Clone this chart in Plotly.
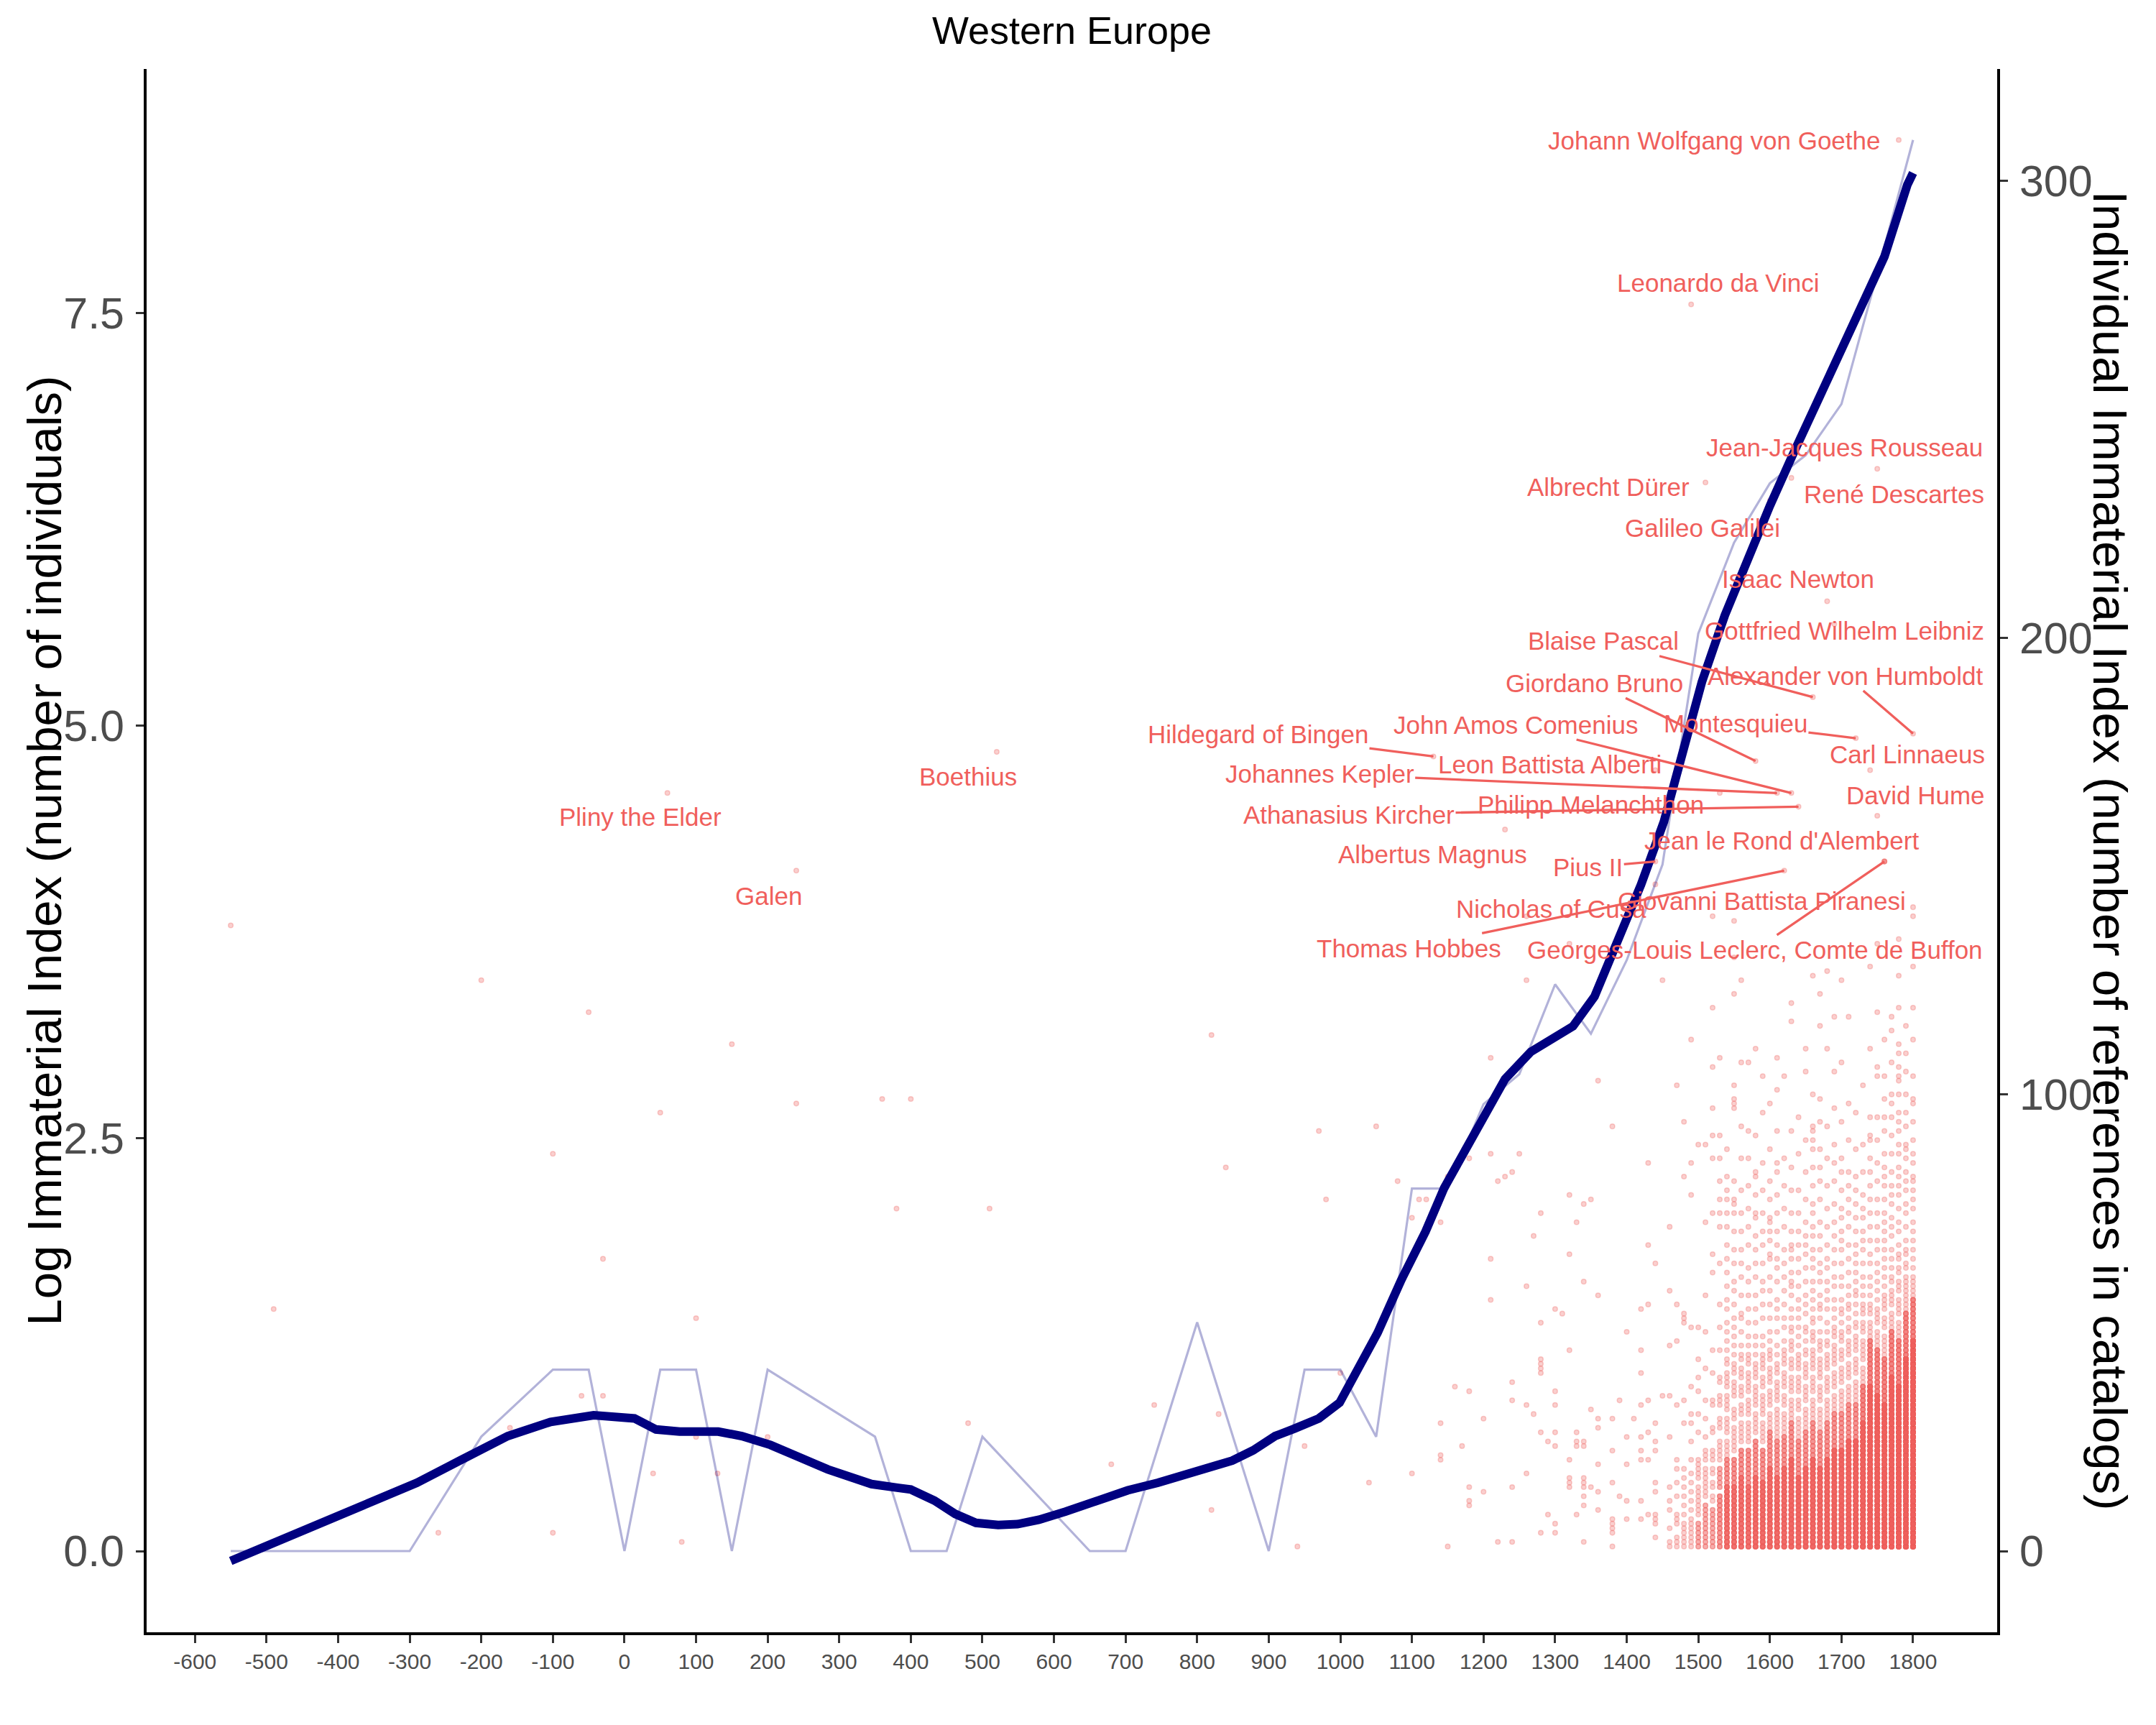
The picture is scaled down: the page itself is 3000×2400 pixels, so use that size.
import plotly.graph_objects as go

K = 36.14  # references per log unit (secondary axis scale)
FONT = "Liberation Sans, Arial, Helvetica, sans-serif"
RED = "#F05F5C"
PT_RGBA = "rgba(240,95,92,0.30)"
PAGE_OFF = 8  # default browser body margin

title_text = "Western Europe"
y_left_title = "Log Immaterial Index (number of individuals)"
y_right_title = "Individual Immaterial Index (number of references in catalogs)"

x_ticks = list(range(-600, 1801, 100))
y_left_ticks = [0, 2.5, 5, 7.5]
y_left_ticklabels = ["0.0", "2.5", "5.0", "7.5"]
y_right_ticks = [0, 100, 200, 300]

# log count of individuals per 50-year bin
bin_years = [-550, -500, -300, -200, -100, -50, 0, 50, 100, 150,
             200, 350, 400, 450, 500, 650, 700, 800, 900, 950,
             1000, 1050, 1100, 1150, 1200, 1250, 1300, 1350, 1400, 1450,
             1500, 1550, 1600, 1650, 1700, 1750, 1800]
bin_log = [0, 0, 0, 0.693, 1.099, 1.099, 0, 1.099, 1.099, 0,
           1.099, 0.693, 0, 0, 0.693, 0, 0, 1.386, 0, 1.099,
           1.099, 0.693, 2.197, 2.197, 2.708, 2.890, 3.434, 3.135, 3.58, 4.16,
           5.56, 6.11, 6.47, 6.64, 6.95, 7.74, 8.55]

# smoothed trend
smooth_years = [-550, -489, -431, -364, -290, -230, -163, -103, -43, 14,
                44, 77, 131, 164, 204, 284, 345, 383, 400, 433,
                462, 491, 522, 549, 579, 616, 658, 703, 745, 795,
                824, 849, 878, 909, 936, 970, 999, 1035, 1052, 1085,
                1119, 1145, 1179, 1200, 1230, 1266, 1299, 1325, 1355, 1388,
                1420, 1452, 1478, 1505, 1537, 1569, 1600, 1632, 1664, 1696,
                1728, 1760, 1792, 1800]
smooth_log = [-0.06, 0.05, 0.158, 0.279, 0.414, 0.548, 0.697, 0.783, 0.823, 0.804,
              0.737, 0.724, 0.724, 0.697, 0.643, 0.495, 0.406, 0.383, 0.373, 0.306,
              0.225, 0.171, 0.158, 0.163, 0.19, 0.239, 0.306, 0.368, 0.414, 0.473,
              0.508, 0.548, 0.61, 0.697, 0.742, 0.804, 0.899, 1.18, 1.322, 1.642,
              1.936, 2.2, 2.473, 2.64, 2.86, 3.025, 3.112, 3.18, 3.36, 3.696,
              4.038, 4.42, 4.823, 5.266, 5.669, 6.011, 6.333, 6.643, 6.945, 7.247,
              7.541, 7.843, 8.278, 8.35]

# individual points (decade, references) - sparse reading per decade
sparse_years = [-550, -490, -260, -200, -160, -100, -60, -50, -30, 40,
                50, 80, 100, 130, 150, 200, 240, 360, 380, 400,
                480, 510, 680, 740, 820, 830, 840, 940, 950, 970,
                980, 1000, 1040, 1050, 1080, 1100, 1110, 1120, 1140, 1150,
                1160, 1170, 1180, 1200, 1210, 1220, 1230, 1240, 1250, 1260,
                1270, 1280, 1290, 1300, 1310, 1320, 1330, 1340, 1350, 1360,
                1380, 1390, 1400, 1410, 1420, 1430, 1440, 1450, 1460, 1470,
                1480, 1490,
                1500, 1510, 1520, 1530, 1540, 1550, 1560, 1570, 1580, 1590,
                1600, 1610, 1620, 1630, 1640, 1650, 1660, 1670, 1680, 1690,
                1700, 1710, 1720, 1730, 1740, 1750, 1760, 1770, 1780, 1790, 1800]
sparse_refs = [
    [137], [53], [4], [125], [27], [87, 4], [34], [118], [64, 34], [17],
    [96], [2], [51, 25], [17], [111], [25], [98], [99], [75], [99],
    [28], [75], [19], [32], [113, 9], [30], [84], [1], [23], [92],
    [77], [39], [15], [93], [81], [73, 17], [77], [77], [72, 28, 21, 20], [82, 1],
    [36], [23], [86, 35, 14, 11, 10], [29, 13], [108, 87, 64, 55], [81, 2], [82],
    [83, 37, 33, 14, 2], [87], [139, 125, 58, 32, 17],
    [69, 30], [74, 50, 42, 41, 40, 39, 26, 4], [24, 8], [53, 35, 32, 26, 23, 6, 4], [52],
    [133, 78, 65, 44, 20, 16, 15, 14], [72, 26, 24, 23, 8],
    [76, 59, 24, 23, 16, 15, 14, 12, 10, 2], [77, 31, 14], [103, 56, 29, 27, 19, 13, 9],
    [93, 29, 22, 15, 7, 6, 5, 4, 1], [33, 12], [48, 25, 19, 11, 7], [29],
    [53, 44, 39, 32, 25, 22, 20, 11, 7], [85, 67, 54, 33, 26, 20, 8],
    [63, 28, 24, 22, 15, 13, 8, 7, 6, 3], [125, 34],
    [71, 57, 45, 34, 25, 14, 11, 9, 5, 2, 1],
    [102, 54, 46, 32, 20, 18, 15, 12, 8, 7, 6, 3, 2, 1],
    [1, 2, 3, 4, 5, 6, 8, 10, 12, 14, 16, 18, 28, 33, 50, 51, 52, 82, 94],
    [1, 2, 3, 4, 5, 6, 7, 9, 11, 13, 15, 17, 20, 24, 28, 30, 36, 49, 78, 85, 112],
    [26, 30, 35, 38, 42, 49, 89],
    [22, 25, 29, 33, 40, 48, 56, 72, 89],
    [39, 44, 61, 65, 74, 86, 91, 97, 106, 119, 139],
    [44, 49, 54, 63, 71, 74, 77, 81, 86, 91, 108],
    [44, 46, 48, 50, 53, 55, 58, 61, 64, 67, 71, 74, 77, 79, 82, 88],
    [43, 45, 47, 49, 51, 54, 57, 59, 63, 66, 70, 74, 76, 77, 81, 97, 98, 99, 102, 122, 130, 138],
    [42, 43, 45, 48, 51, 52, 56, 60, 63, 66, 70, 74, 79, 86, 93, 107, 125],
    [43, 45, 47, 50, 53, 56, 59, 62, 67, 71, 75, 80, 86, 92, 107],
    [43, 45, 47, 50, 53, 56, 60, 63, 66, 69, 73, 74, 78, 82, 83, 91, 110],
    [45, 47, 51, 54, 57, 59, 63, 67, 70, 74, 79, 85, 96, 104],
    [44, 46, 48, 51, 54, 57, 60, 64, 65, 68, 70, 72, 73, 77, 81, 88, 98],
    [43, 45, 48, 51, 53, 55, 59, 62, 64, 67, 70, 74, 78, 83, 85, 92, 101, 108],
    [46, 49, 51, 54, 57, 60, 63, 66, 71, 75, 80, 86, 104],
    [48, 49, 51, 53, 56, 58, 59, 61, 64, 66, 67, 70, 74, 79, 84, 92, 116, 120],
    [45, 47, 49, 51, 53, 55, 58, 61, 64, 67, 70, 74, 79, 87, 95],
    [46, 48, 49, 52, 54, 56, 59, 62, 65, 67, 69, 72, 77, 83, 90, 105, 110],
    [50, 51, 53, 55, 57, 59, 62, 64, 66, 69, 71, 74, 76, 80, 84, 88, 90, 92, 93, 100, 126],
    [48, 51, 53, 54, 56, 59, 61, 63, 66, 69, 72, 77, 81, 84, 88, 94, 99, 115, 122],
    [48, 50, 53, 55, 57, 59, 62, 64, 67, 71, 75, 80, 86, 93, 110, 127],
    [49, 51, 53, 55, 58, 60, 63, 66, 69, 72, 76, 81, 85, 89, 97, 105, 117],
    [50, 52, 53, 55, 58, 60, 63, 66, 68, 70, 73, 75, 79, 83, 86, 94, 107, 125],
    [51, 53, 54, 56, 58, 61, 64, 67, 71, 74, 77, 80, 83, 90, 98, 117],
    [52, 54, 56, 57, 59, 61, 63, 65, 67, 70, 73, 76, 79, 82, 88, 96],
    [54, 56, 58, 60, 63, 66, 68, 70, 73, 75, 78, 83, 89, 102],
    [56, 58, 60, 63, 65, 68, 71, 74, 77, 80, 83, 86, 90, 91, 95, 110, 128],
    [55, 57, 59, 61, 63, 66, 68, 71, 74, 77, 81, 85, 90, 95, 104, 106, 118, 133],
    [58, 60, 62, 64, 66, 68, 70, 72, 74, 77, 80, 82, 84, 87, 92, 95, 99, 104, 112],
    [59, 60, 62, 64, 66, 69, 71, 73, 76, 78, 80, 83, 87, 91, 95, 98, 100, 107, 114, 117],
    [61, 62, 64, 65, 67, 70, 72, 75, 78, 80, 82, 84, 87, 89, 92, 94, 96, 100, 103, 104, 106,
     109, 111, 119, 126, 134],
    [59, 60, 62, 63, 65, 66, 68, 71, 74, 76, 79, 81, 83, 86, 88, 89, 93, 96, 100, 105, 109, 115],
    [59, 60, 62, 64, 66, 68, 70, 72, 75, 77, 79, 81, 82, 85, 87, 90, 94, 98, 99, 104, 112, 119,
     128, 139, 141],
]

# dense stacks: (lowest refs, highest refs, individuals per position) per decade
dense_years = [1500, 1510, 1520, 1530, 1540, 1550, 1560, 1570, 1580, 1590,
               1600, 1610, 1620, 1630, 1640, 1650, 1660, 1670, 1680, 1690,
               1700, 1710, 1720, 1730, 1740, 1750, 1760, 1770, 1780, 1790, 1800]
dense_runs = [
    [(1, 6, 2), (8, 14, 1), (16, 20, 1)],
    [(1, 10, 2), (12, 18, 1), (20, 21, 1)],
    [(1, 9, 2), (11, 12, 1), (14, 15, 1), (17, 18, 1), (20, 22, 1), (26, 27, 1), (32, 33, 1)],
    [(1, 12, 3), (14, 18, 2), (20, 24, 1), (27, 29, 1), (32, 34, 1), (37, 38, 1)],
    [(1, 14, 6), (15, 20, 3), (21, 24, 1), (26, 29, 1), (31, 34, 1), (36, 39, 1), (41, 42, 1)],
    [(1, 14, 6), (15, 20, 3), (22, 27, 1), (29, 31, 1), (34, 37, 1), (39, 41, 1)],
    [(1, 16, 6), (17, 22, 3), (24, 28, 1), (30, 32, 1), (34, 36, 1), (38, 40, 1)],
    [(1, 14, 6), (15, 22, 3), (24, 28, 1), (30, 33, 1), (35, 39, 1), (41, 42, 1)],
    [(1, 16, 7), (17, 24, 3), (26, 30, 1), (32, 36, 1), (38, 41, 1)],
    [(1, 15, 7), (16, 22, 3), (24, 28, 1), (30, 34, 1), (36, 38, 1), (40, 43, 1)],
    [(1, 18, 7), (19, 26, 3), (27, 30, 1), (32, 35, 1), (37, 40, 1), (42, 43, 1)],
    [(1, 16, 7), (17, 24, 3), (25, 31, 1), (33, 37, 1), (39, 41, 1)],
    [(1, 18, 7), (19, 25, 3), (26, 30, 1), (32, 34, 1), (36, 39, 1), (41, 44, 1)],
    [(1, 20, 8), (21, 28, 3), (29, 33, 1), (35, 38, 1), (40, 42, 1), (44, 46, 1)],
    [(1, 16, 8), (17, 24, 3), (25, 29, 1), (31, 33, 1), (35, 38, 1), (40, 43, 1)],
    [(1, 18, 8), (19, 26, 3), (27, 31, 1), (33, 36, 1), (38, 41, 1), (43, 44, 1)],
    [(1, 20, 8), (21, 28, 3), (29, 33, 1), (35, 38, 1), (40, 44, 1), (46, 48, 1)],
    [(1, 18, 8), (19, 26, 3), (27, 31, 1), (33, 36, 1), (38, 42, 1), (44, 46, 1)],
    [(1, 20, 8), (21, 28, 3), (29, 33, 1), (35, 38, 1), (40, 43, 1), (45, 46, 1)],
    [(1, 22, 9), (23, 30, 3), (31, 34, 1), (36, 39, 1), (41, 45, 1), (47, 48, 1)],
    [(1, 22, 9), (23, 30, 3), (31, 35, 1), (37, 40, 1), (42, 44, 1), (46, 48, 1)],
    [(1, 24, 9), (25, 32, 3), (33, 36, 1), (38, 41, 1), (43, 46, 1), (48, 49, 1)],
    [(1, 24, 10), (25, 32, 3), (33, 37, 1), (39, 42, 1), (44, 47, 1), (49, 50, 1)],
    [(1, 28, 10), (29, 36, 4), (37, 40, 1), (42, 46, 1), (48, 50, 1), (52, 53, 1)],
    [(1, 36, 12), (37, 46, 4), (47, 50, 1), (52, 54, 1)],
    [(1, 34, 12), (35, 44, 4), (45, 48, 1), (50, 53, 1)],
    [(1, 32, 12), (33, 42, 4), (43, 47, 1), (49, 51, 1), (53, 56, 1)],
    [(1, 38, 14), (39, 48, 4), (49, 52, 1), (54, 57, 1)],
    [(1, 36, 14), (37, 46, 4), (47, 50, 1), (52, 55, 1), (57, 59, 1)],
    [(1, 42, 16), (43, 52, 4), (53, 55, 1), (56, 58, 1)],
    [(1, 46, 16), (47, 55, 4), (56, 58, 1)],
]

# labelled individuals
notable_names = ["Johann Wolfgang von Goethe", "Leonardo da Vinci", "Jean-Jacques Rousseau",
                 "René Descartes", "Albrecht Dürer", "Galileo Galilei", "Isaac Newton",
                 "Gottfried Wilhelm Leibniz", "Blaise Pascal", "Alexander von Humboldt",
                 "Giordano Bruno", "Montesquieu", "Carl Linnaeus", "John Amos Comenius",
                 "Hildegard of Bingen", "Leon Battista Alberti", "Johannes Kepler",
                 "David Hume", "Philipp Melanchthon", "Athanasius Kircher", "Albertus Magnus",
                 "Jean le Rond d'Alembert", "Pius II", "Giovanni Battista Piranesi",
                 "Nicholas of Cusa", "Thomas Hobbes", "Georges-Louis Leclerc, Comte de Buffon",
                 "Pliny the Elder", "Galen", "Boethius"]
notable_years = [1780, 1490, 1750, 1630, 1510, 1600, 1680, 1690, 1660, 1800,
                 1580, 1720, 1740, 1630, 1130, 1440, 1610, 1750, 1530, 1640,
                 1230, 1760, 1440, 1760, 1440, 1620, 1760, 60, 240, 520]
notable_refs = [309, 273, 237, 235, 234, 230, 208, 203, 187, 179,
                173, 178, 171, 166, 174, 171, 166, 161, 166, 163,
                158, 151, 151, 151, 146, 149, 151, 166, 149, 175]
label_years = [1522, 1528, 1704, 1773, 1374, 1506, 1639, 1704, 1367, 1706,
               1355, 1552, 1792, 1245, 885, 1293, 971, 1804, 1350, 1012,
               1129, 1616, 1346, 1589, 1295, 1096, 1579, 22, 201, 480]
label_refs = [308.8, 277.7, 241.7, 231.5, 233, 224, 212.9, 201.5, 199.3, 191.7,
              190.1, 181.2, 174.4, 181, 178.9, 172.3, 170.2, 165.5, 163.4, 161.3,
              152.6, 155.6, 149.7, 142.4, 140.6, 132, 131.6, 160.8, 143.5, 169.6]
label_segment = [False, False, False, False, False, False, False, False, True, True,
                 True, True, False, True, True, False, True, False, False, True,
                 False, False, True, False, False, True, True, False, False, False]

# ---- assemble points ----
px, py = [], []
for yr, lst in zip(sparse_years, sparse_refs):
    for r in lst:
        px.append(yr)
        py.append(r / K)
for yr, runs in zip(dense_years, dense_runs):
    for lo, hi, n in runs:
        for r in range(lo, hi + 1):
            for _ in range(n):
                px.append(yr)
                py.append(r / K)
for yr, r in zip(notable_years, notable_refs):
    px.append(yr)
    py.append(r / K)

Y0, Y1 = -0.492, 8.98
X0, X1 = -667.5, 1917.5

fig = go.Figure()
fig.add_trace(go.Scatter(
    x=px, y=py, mode="markers", hoverinfo="skip",
    marker=dict(size=6.6, color=PT_RGBA, line=dict(color=PT_RGBA, width=1.5)),
    showlegend=False))
fig.add_trace(go.Scatter(
    x=bin_years, y=bin_log, mode="lines",
    line=dict(color="rgba(0,0,128,0.3)", width=3.2), showlegend=False))
fig.add_trace(go.Scatter(
    x=smooth_years, y=smooth_log, mode="lines",
    line=dict(color="#000080", width=12), showlegend=False))
# invisible trace so the secondary axis is drawn
fig.add_trace(go.Scatter(x=[X0], y=[0], yaxis="y2", mode="markers",
                         marker=dict(opacity=0), showlegend=False, hoverinfo="skip"))

annotations = []
for name, xr, yr, lx, ly, seg in zip(notable_names, notable_years, notable_refs,
                                     label_years, label_refs, label_segment):
    if seg:
        annotations.append(dict(
            x=xr, y=yr / K, xref="x", yref="y", text=name,
            showarrow=True, ax=lx, ay=ly / K, axref="x", ayref="y",
            arrowhead=0, arrowwidth=3.3, arrowcolor=RED, standoff=0,
            font=dict(family=FONT, size=35, color=RED)))
    else:
        annotations.append(dict(
            x=lx, y=ly / K, xref="x", yref="y", text=name, showarrow=False,
            font=dict(family=FONT, size=35, color=RED)))

annotations.append(dict(x=-0.0555, y=0.5, xref="paper", yref="paper",
                        text=y_left_title, textangle=-90, showarrow=False,
                        xanchor="center", yanchor="middle",
                        font=dict(family=FONT, size=67, color="black")))
annotations.append(dict(x=1.061, y=0.5, xref="paper", yref="paper",
                        text=y_right_title, textangle=90, showarrow=False,
                        xanchor="center", yanchor="middle",
                        font=dict(family=FONT, size=67, color="black")))

axis_common = dict(showgrid=False, zeroline=False, showline=True, linecolor="black",
                   linewidth=3.5, ticks="outside", ticklen=11, tickwidth=3,
                   tickcolor="#333333")

fig.update_layout(
    width=3000, height=2400,
    margin=dict(l=204 - PAGE_OFF, r=221 + PAGE_OFF, t=96 - PAGE_OFF, b=129 + PAGE_OFF),
    paper_bgcolor="white", plot_bgcolor="white",
    font=dict(family=FONT),
    title=dict(text=title_text, x=0.5, xref="paper", xanchor="center",
               y=1 - (42 - PAGE_OFF) / 2400, yref="container", yanchor="middle",
               font=dict(family=FONT, size=54, color="black")),
    xaxis=dict(range=[X0, X1], tickvals=x_ticks, ticktext=[str(t) for t in x_ticks],
               tickfont=dict(family=FONT, size=30, color="#4D4D4D"), **axis_common),
    yaxis=dict(range=[Y0, Y1], tickvals=y_left_ticks, ticktext=y_left_ticklabels,
               tickfont=dict(family=FONT, size=61, color="#4D4D4D"),
               ticklabelstandoff=4, **axis_common),
    yaxis2=dict(range=[Y0 * K, Y1 * K], tickvals=y_right_ticks, overlaying="y",
                side="right", anchor="x",
                tickfont=dict(family=FONT, size=61, color="#4D4D4D"),
                ticklabelstandoff=4, **axis_common),
    annotations=annotations,
)

fig.write_html("out.html")
